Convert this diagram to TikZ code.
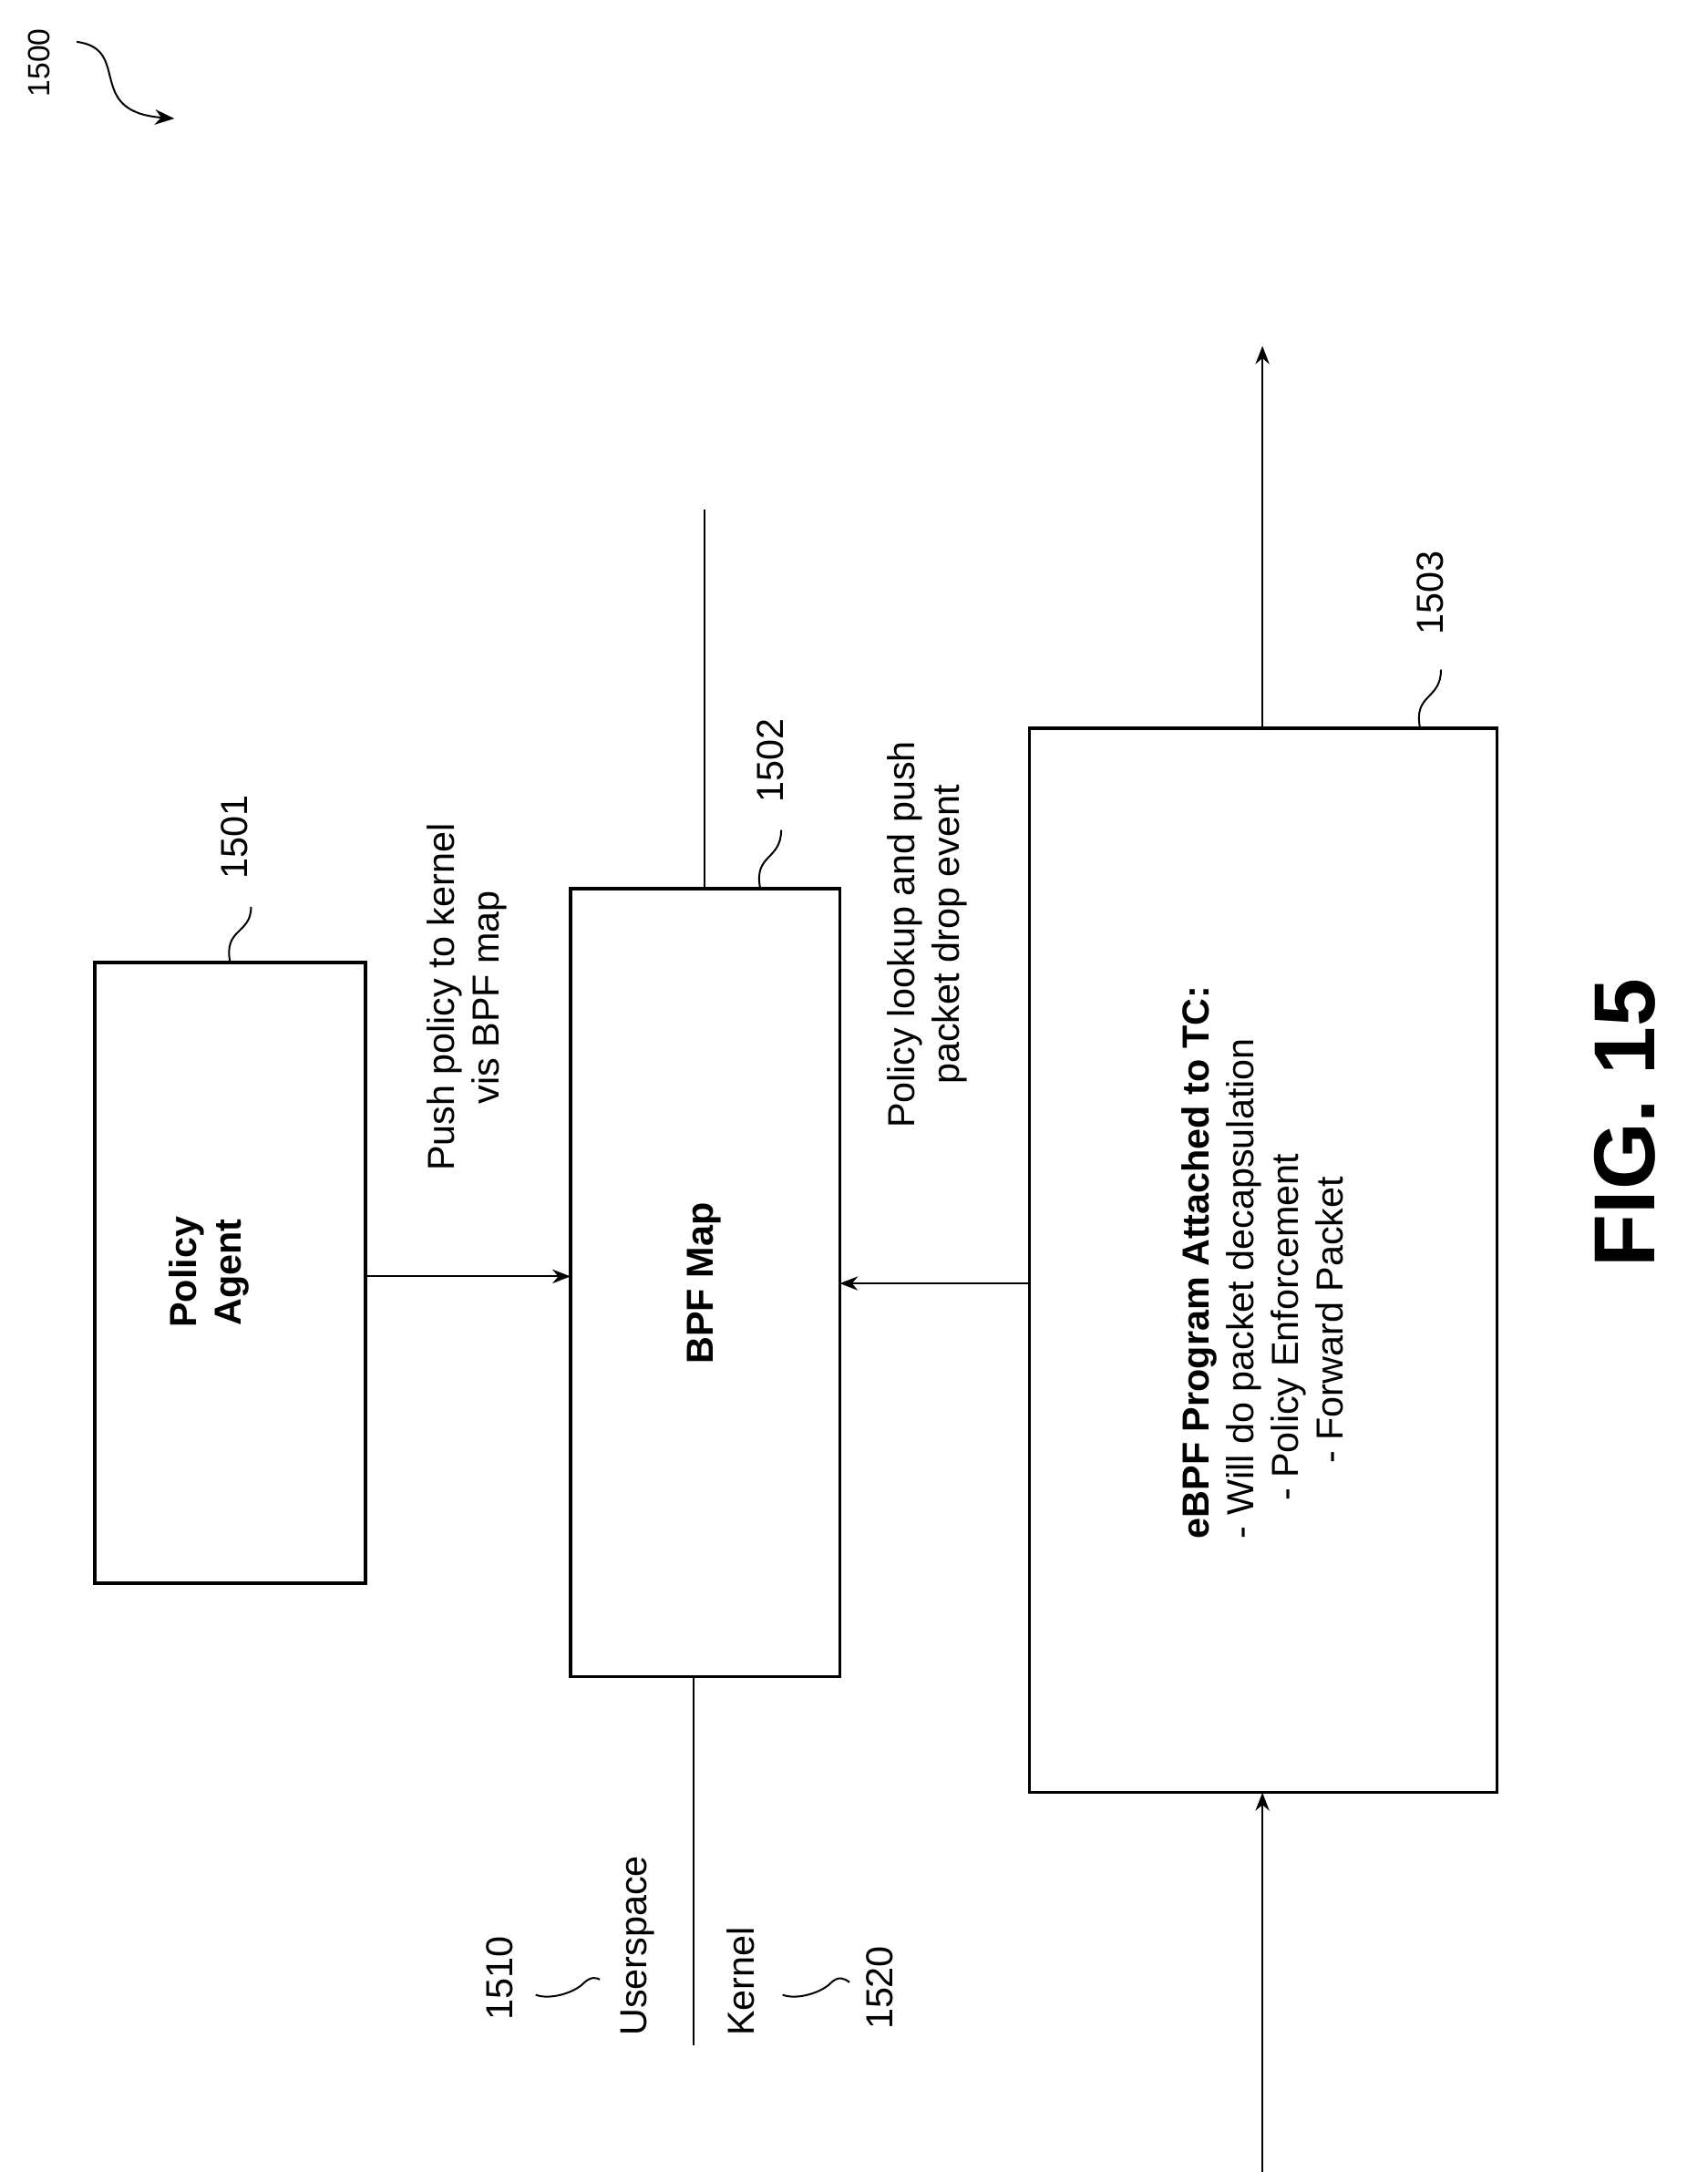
\documentclass[tikz,border=0pt]{standalone}
\usepackage{fontspec}
\setmainfont{Liberation Sans}
\usetikzlibrary{arrows.meta}
\begin{document}
\begin{tikzpicture}[x=1pt,y=-1pt,
  box/.style={draw,line width=2.2pt},
  lab/.style={rotate=90,font=\fontsize{27}{32}\selectfont,align=center},
  blab/.style={lab,font=\fontsize{27}{32}\selectfont\bfseries},
  conn/.style={line width=1.3pt},
  arr/.style={conn,-{Stealth[length=13pt,width=10pt]}},
  sq/.style={line width=1.3pt}]
\useasboundingbox (0,0) rectangle (1224,1557);
\draw[box] (68,690) rectangle (262,1135);
\node[blab] (pa) at (150,912) {Policy\\Agent};
\coordinate (paR) at (262,915);
\draw[box] (409,637) rectangle (602,1202);
\node[blab] (bm) at (505,920) {BPF Map};
\coordinate (bmL) at (409,915); \coordinate (bmR) at (602,920);
\coordinate (bmT) at (505,637); \coordinate (bmB) at (497,1202);
\draw[box] (738,522) rectangle (1073,1285);
\node[lab,align=left] (eb) at (905,905) {\textbf{eBPF Program Attached to TC:}\\- Will do packet decapsulation\\\quad - Policy Enforcement\\\qquad - Forward Packet};
\coordinate (ebL) at (738,920); \coordinate (ebT) at (905,522); \coordinate (ebB) at (905,1285);
\coordinate (in) at (905,1557); \coordinate (out) at (905,248);
\coordinate (dT) at (505,365); \coordinate (dB) at (497,1466);
\draw[arr] (paR) -- (bmL);
\draw[arr] (ebL) -- (bmR);
\draw[arr] (in) -- (ebB);
\draw[arr] (ebT) -- (out);
\draw[conn] (bmT) -- (dT);
\draw[conn] (bmB) -- (dB);
\node[lab] (t1) at (335,715) {Push policy to kernel\\vis BPF map};
\node[lab] (t2) at (665,670) {Policy lookup and push\\packet drop event};
\node[lab,anchor=west] (us) at (457,1463) {Userspace};
\node[lab,anchor=west] (ke) at (531,1463) {Kernel};
\node[lab] (n1510) at (358,1418) {1510};
\node[lab] (n1520) at (631,1425) {1520};
\draw[sq] (384,1430) .. controls (395,1434) and (412,1428) .. (418,1422) .. controls (424,1416) and (428,1418) .. (430,1419);
\draw[sq] (561,1430) .. controls (572,1434) and (589,1428) .. (595,1422) .. controls (601,1416) and (605,1418) .. (609,1421);
\node[lab] (n1501) at (168,600) {1501};
\draw[sq] (165,690) .. controls (160,665) and (180,670) .. (180,650);
\node[lab] (n1502) at (552,545) {1502};
\draw[sq] (545,637) .. controls (540,612) and (560,617) .. (560,595);
\node[lab] (n1503) at (1025,425) {1503};
\draw[sq] (1018,522) .. controls (1013,497) and (1033,502) .. (1033,480);
\node[lab,font=\fontsize{22}{26}\selectfont] (n1500) at (28,45) {1500};
\draw[sq,-{Stealth[length=14pt,width=11pt]}] (55,30) .. controls (95,35) and (60,80) .. (125,85);
\node[rotate=90,font=\fontsize{62}{70}\selectfont\bfseries] (fig) at (1165,805) {FIG. 15};
\end{tikzpicture}
\end{document}
